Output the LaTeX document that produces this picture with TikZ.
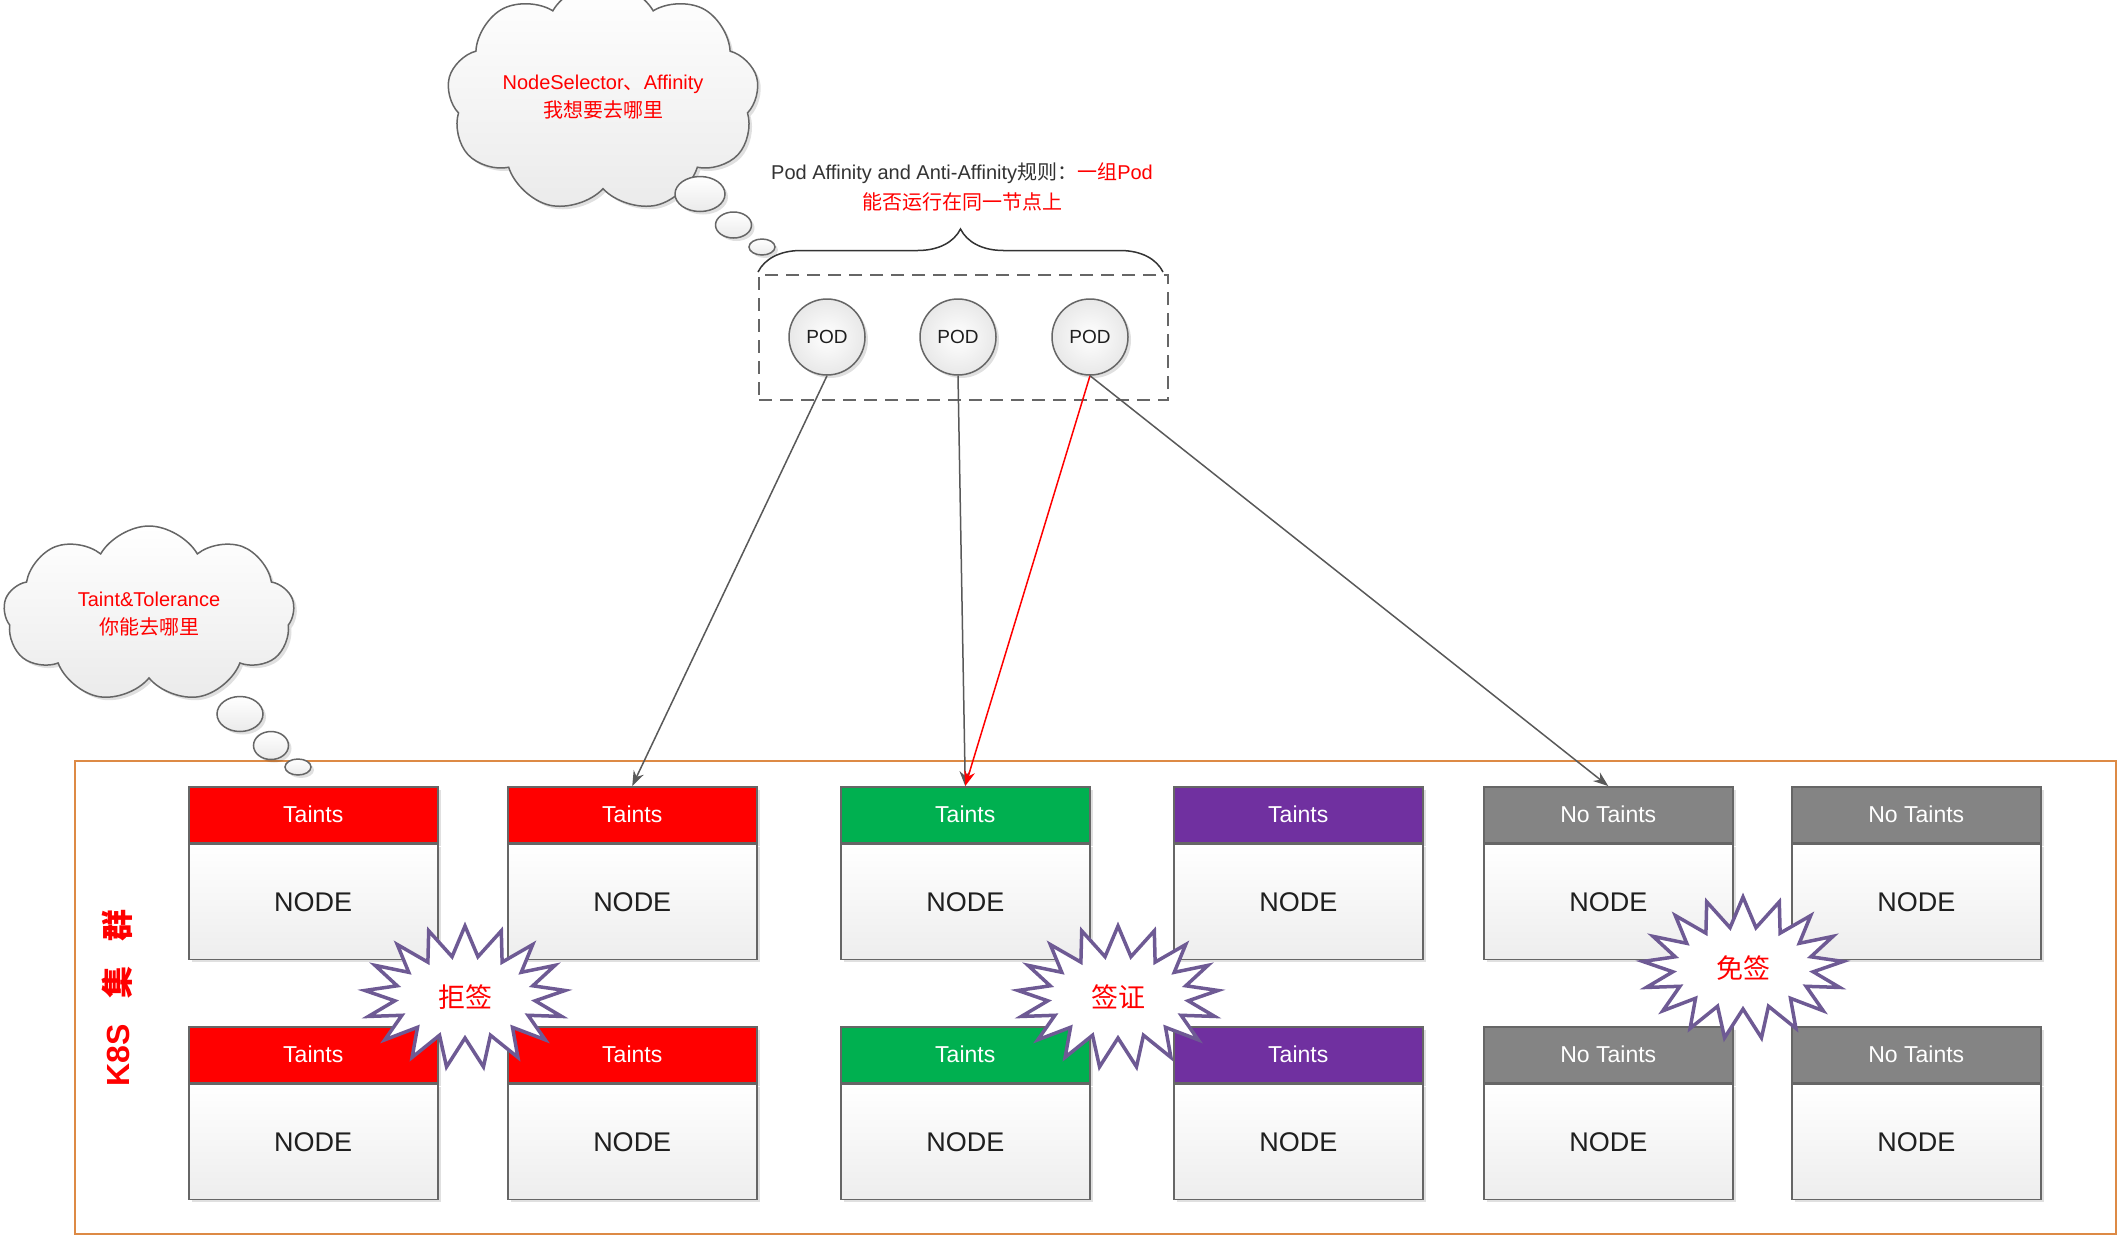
\documentclass[tikz,border=0pt]{standalone}
\usepackage{fontspec}
\setmainfont{Liberation Sans}
\newfontfamily\cjk{Noto Sans CJK SC}
\usetikzlibrary{shapes.symbols, decorations.pathreplacing, arrows.meta, shadows}

\definecolor{taintred}{HTML}{FF0000}
\definecolor{taintgreen}{HTML}{00B050}
\definecolor{taintpurple}{HTML}{7030A0}
\definecolor{taintgray}{HTML}{848484}
\definecolor{edgegray}{HTML}{666666}
\definecolor{framecol}{HTML}{DD8A45}
\definecolor{burstcol}{HTML}{6E5A94}
\newcommand{\fsz}[2]{\fontsize{#1pt}{#2pt}\selectfont}

\tikzset{
    softshadow/.style={drop shadow={shadow xshift=3pt, shadow yshift=-3pt, fill=black, opacity=0.12}},
    taintbar/.style={draw=edgegray, line width=1.5pt, minimum width=249pt, minimum height=56pt,
        inner sep=0pt, text=white, font=\fsz{23}{28}, softshadow},
    nodebox/.style={draw=edgegray, line width=1.5pt, top color=white, bottom color=black!7,
        minimum width=249pt, minimum height=115pt, inner sep=0pt, text=black!88,
        font=\fsz{27}{32}, softshadow},
    pod/.style={circle, draw=edgegray, line width=1.5pt, inner color=white, outer color=black!9,
        minimum size=76pt, inner sep=0pt, text=black!88, font=\fsz{19}{23}, softshadow},
    thought/.style={cloud, cloud puffs=9, cloud puff arc=120, aspect=1.6, draw=edgegray,
        line width=1.5pt, top color=white, bottom color=black!8, text=red, align=center,
        font=\fsz{20}{28}, softshadow},
    bubble/.style={draw=edgegray, line width=1.5pt, top color=white, bottom color=black!8, softshadow},
    burst/.style={starburst, starburst points=17, starburst point height=30pt, random starburst=0,
        draw=burstcol, line width=3.5pt, fill=white, minimum width=201pt, minimum height=142pt,
        text=red, font=\cjk\fsz{27}{32}},
    link/.style={draw=black!65, line width=1.5pt, -{Stealth[length=15pt, width=11pt]}}
}

\begin{document}
\begin{tikzpicture}[x=1pt, y=-1pt]
    \fill[white] (0,0) rectangle (2122,1240);
    \useasboundingbox (0,0) rectangle (2122,1240);

    % K8S cluster frame
    \draw[framecol, line width=2pt] (75,761) rectangle (2116,1234);
    \node[rotate=90, text=red, font=\bfseries\fsz{32}{36}] (k8s) at (117,998)
        {K8S\hspace{25pt}{\cjk 集}\hspace{25pt}{\cjk 群}};

    % Nodes with their taints
    \foreach \c/\x/\hue/\tag in {1/188/taintred/Taints, 2/507/taintred/Taints,
            3/840/taintgreen/Taints, 4/1173/taintpurple/Taints,
            5/1483/taintgray/No Taints, 6/1791/taintgray/No Taints} {
        \foreach \r/\y in {1/786, 2/1026} {
            \node[taintbar, fill=\hue, anchor=north west] (t\r\c) at (\x,\y) {\tag};
            \node[nodebox, anchor=north] (n\r\c) at (t\r\c.south) {NODE};
        }
    }

    % Visa bursts
    \node[burst] (refuse) at (465,997) {拒签};
    \node[burst] (visa) at (1118,997) {签证};
    \node[burst] (free) at (1743,968) {免签};

    % Pod group
    \node[draw=edgegray, line width=1.5pt, dash pattern=on 13pt off 8pt,
        minimum width=409pt, minimum height=125pt] (podgroup) at (963.5,337.5) {};
    \node[pod] (pod1) at (827,337) {POD};
    \node[pod] (pod2) at (958,337) {POD};
    \node[pod] (pod3) at (1090,337) {POD};

    \draw[black!80, line width=1.5pt, decorate, decoration={brace, amplitude=43pt}]
        (758,272) -- (1163,272);
    \node[font=\fsz{20}{30}, align=center, text=black!80] (rule) at (962,187)
        {Pod Affinity and Anti-Affinity{\cjk 规则：}\textcolor{red}{{\cjk 一组}Pod}\\
         \textcolor{red}{\cjk 能否运行在同一节点上}};

    % Scheduling arrows
    \draw[link] (pod1.south) -- (t12.north);
    \draw[link] (pod2.south) -- (t13.north);
    \draw[link, draw=red, fill=red] (pod3.south) -- (t13.north);
    \draw[link] (pod3.south) -- (t15.north);

    % Thought clouds
    \node[thought, minimum width=303pt, minimum height=174pt] (wish) at (603,97)
        {NodeSelector{\cjk 、}Affinity\\{\cjk 我想要去哪里}};
    \path[bubble] (700,194) ellipse [x radius=25pt, y radius=17.5pt];
    \path[bubble] (733.5,225) ellipse [x radius=18pt, y radius=13pt];
    \path[bubble] (762,247) ellipse [x radius=13pt, y radius=8pt];

    \node[thought, minimum width=291pt, minimum height=176pt] (allow) at (149,614)
        {Taint\&Tolerance\\{\cjk 你能去哪里}};
    \path[bubble] (240,714) ellipse [x radius=23pt, y radius=17.5pt];
    \path[bubble] (271,745.5) ellipse [x radius=17.5pt, y radius=14pt];
    \path[bubble] (298,767) ellipse [x radius=13pt, y radius=8pt];
\end{tikzpicture}
\end{document}
